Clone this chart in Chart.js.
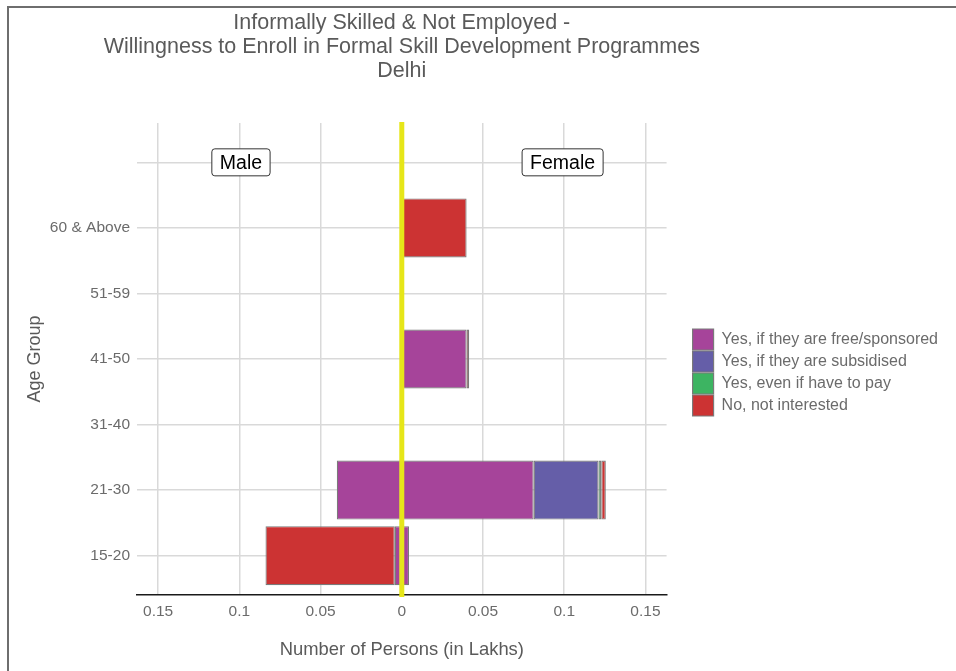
<!DOCTYPE html>
<html>
<head>
<meta charset="utf-8">
<script src="https://cdn.jsdelivr.net/npm/chart.js@4/dist/chart.umd.min.js"></script>
<style>
  html, body { margin: 0; padding: 0; background: #fff; overflow: hidden; }
  #wrap { position: relative; width: 956px; height: 671px; }
  #frame { position: absolute; left: 7px; top: 6px; width: 960px; height: 700px;
           border-top: 2px solid #6e6e6e; border-left: 2px solid #6e6e6e; pointer-events: none; }
</style>
</head>
<body>
<div id="wrap">
  <canvas id="c" width="956" height="671"></canvas>
  <div id="frame"></div>
</div>
<script>
// ---- data ----
const titleLines = ['Informally Skilled & Not Employed -', 'Willingness to Enroll in Formal Skill Development Programmes', 'Delhi'];
const categories = ['15-20', '21-30', '31-40', '41-50', '51-59', '60 & Above', ''];
const seriesNames = ['Yes, if they are free/sponsored', 'Yes, if they are subsidised', 'Yes, even if have to pay', 'No, not interested'];
const seriesColors = ['#A6449A', '#655EA8', '#3DB462', '#CC3333'];
// values in lakhs, per category (15-20 ... 60 & Above)
const maleFree        = [0.0043, 0.0400, 0, 0, 0, 0];
const maleSubsidised  = [0, 0, 0, 0, 0, 0];
const malePay         = [0, 0, 0, 0, 0, 0];
const maleNo          = [0.0796, 0, 0, 0, 0, 0];
const femaleFree      = [0.0045, 0.0812, 0, 0.0399, 0, 0];
const femaleSubsidised= [0, 0.0399, 0, 0, 0, 0];
const femalePay       = [0, 0.0017, 0, 0, 0, 0];
const femaleNo        = [0, 0.0028, 0, 0.0016, 0, 0.0399];
const xTickValues = [-0.15, -0.1, -0.05, 0, 0.05, 0.1, 0.15];
const xTickLabels = ['0.15', '0.1', '0.05', '0', '0.05', '0.1', '0.15'];
const genderLabels = ['Male', 'Female'];
const genderLabelValues = [-0.099, 0.099];

const FONT = "'Liberation Sans', Arial, sans-serif";

function toPoints(arr, sign) {
  return arr.map((v, i) => ({ x: v === 0 ? null : sign * v, y: i + 1 }));
}
const maleSeries = [maleFree, maleSubsidised, malePay, maleNo];
const femaleSeries = [femaleFree, femaleSubsidised, femalePay, femaleNo];
const datasets = [];
seriesNames.forEach((name, k) => {
  datasets.push({ label: name, data: toPoints(maleSeries[k], -1), backgroundColor: seriesColors[k],
    borderColor: '#7a7a7a', borderWidth: 1.2, borderSkipped: false, stack: 's', gender: 'm' });
});
seriesNames.forEach((name, k) => {
  datasets.push({ label: name, data: toPoints(femaleSeries[k], 1), backgroundColor: seriesColors[k],
    borderColor: '#7a7a7a', borderWidth: 1.2, borderSkipped: false, stack: 's', gender: 'f' });
});

const overlay = {
  id: 'overlay',
  afterLayout(chart) {
    // let the title (centred over the plot) use more width than the plot itself
    const tb = chart.titleBlock;
    if (tb) { tb.left = chart.chartArea.left - 80; tb.right = chart.chartArea.right + 80; }
  },
  afterDatasetsDraw(chart) {
    const ctx = chart.ctx;
    const xs = chart.scales.x, ys = chart.scales.y;
    const area = chart.chartArea;
    const x0 = xs.getPixelForValue(0);
    ctx.save();
    ctx.strokeStyle = '#E6E619';
    ctx.lineWidth = 5;
    ctx.beginPath();
    ctx.moveTo(x0, area.top - 1);
    ctx.lineTo(x0, area.bottom + 2);
    ctx.stroke();
    ctx.font = '19.5px ' + FONT;
    ctx.textAlign = 'center';
    ctx.textBaseline = 'middle';
    const yc = ys.getPixelForValue(7);
    genderLabels.forEach((t, i) => {
      const cx = xs.getPixelForValue(genderLabelValues[i]);
      const w = ctx.measureText(t).width + 16;
      const h = 27;
      ctx.beginPath();
      ctx.roundRect(cx - w / 2, yc - h / 2, w, h, 3);
      ctx.fillStyle = '#fff';
      ctx.fill();
      ctx.lineWidth = 1;
      ctx.strokeStyle = '#333';
      ctx.stroke();
      ctx.fillStyle = '#000';
      ctx.fillText(t, cx, yc + 1);
    });
    ctx.restore();
  }
};

new Chart(document.getElementById('c'), {
  type: 'bar',
  data: { datasets },
  options: {
    indexAxis: 'y',
    responsive: false,
    animation: false,
    layout: { padding: { left: 0, right: 8, top: 0, bottom: 0 } },
    datasets: { bar: { barPercentage: 0.9, categoryPercentage: 1 } },
    plugins: {
      title: {
        display: true, text: titleLines, fullSize: false, color: '#5a5a5a',
        font: { family: FONT, size: 21.5, weight: 'normal', lineHeight: '24px' },
        padding: { top: 11, bottom: 40 }
      },
      legend: {
        position: 'right', fullSize: false, align: 'center', maxWidth: 320,
        title: { display: true, text: ' ', font: { size: 10, lineHeight: '27px' }, padding: 0 },
        labels: {
          boxWidth: 21, boxHeight: 21, padding: 1, color: '#6b6b6b',
          font: { family: FONT, size: 16 },
          filter: (item, data) => data.datasets[item.datasetIndex].gender === 'm'
        }
      },
      tooltip: { enabled: false }
    },
    scales: {
      x: {
        type: 'linear', stacked: true, min: -0.163, max: 0.163,
        afterBuildTicks: (s) => { s.ticks = xTickValues.map(v => ({ value: v })); },
        afterFit: (s) => { s.height = 76; },
        ticks: {
          color: '#6b6b6b', padding: 7, font: { family: FONT, size: 15.5 },
          callback: (v, i) => xTickLabels[i]
        },
        grid: { color: '#d9d9d9', lineWidth: 1.5, drawTicks: false },
        border: { display: true, color: '#1a1a1a', width: 1.5 },
        title: { display: true, text: 'Number of Persons (in Lakhs)', color: '#5a5a5a',
          font: { family: FONT, size: 18.4 }, padding: { top: 0, bottom: 10 } }
      },
      y: {
        type: 'linear', min: 0.4, max: 7.6, offset: false,
        afterBuildTicks: (s) => { s.ticks = categories.map((c, i) => ({ value: i + 1 })); },
        afterFit: (s) => { s.width = 137; },
        ticks: {
          color: '#6b6b6b', padding: 7, font: { family: FONT, size: 15.5 },
          callback: (v) => categories[Math.round(v) - 1]
        },
        grid: { color: '#d9d9d9', lineWidth: 1.5, drawTicks: false, offset: false },
        border: { display: false },
        title: { display: true, text: 'Age Group', color: '#5a5a5a',
          font: { family: FONT, size: 18 }, padding: { top: 24, bottom: 0 } }
      },
      y2: {
        type: 'linear', position: 'right', display: true, offset: false,
        afterFit: (s) => { s.width = 25; },
        ticks: { display: false },
        grid: { display: false, drawTicks: false },
        border: { display: false }
      }
    }
  },
  plugins: [overlay]
});
</script>
</body>
</html>
